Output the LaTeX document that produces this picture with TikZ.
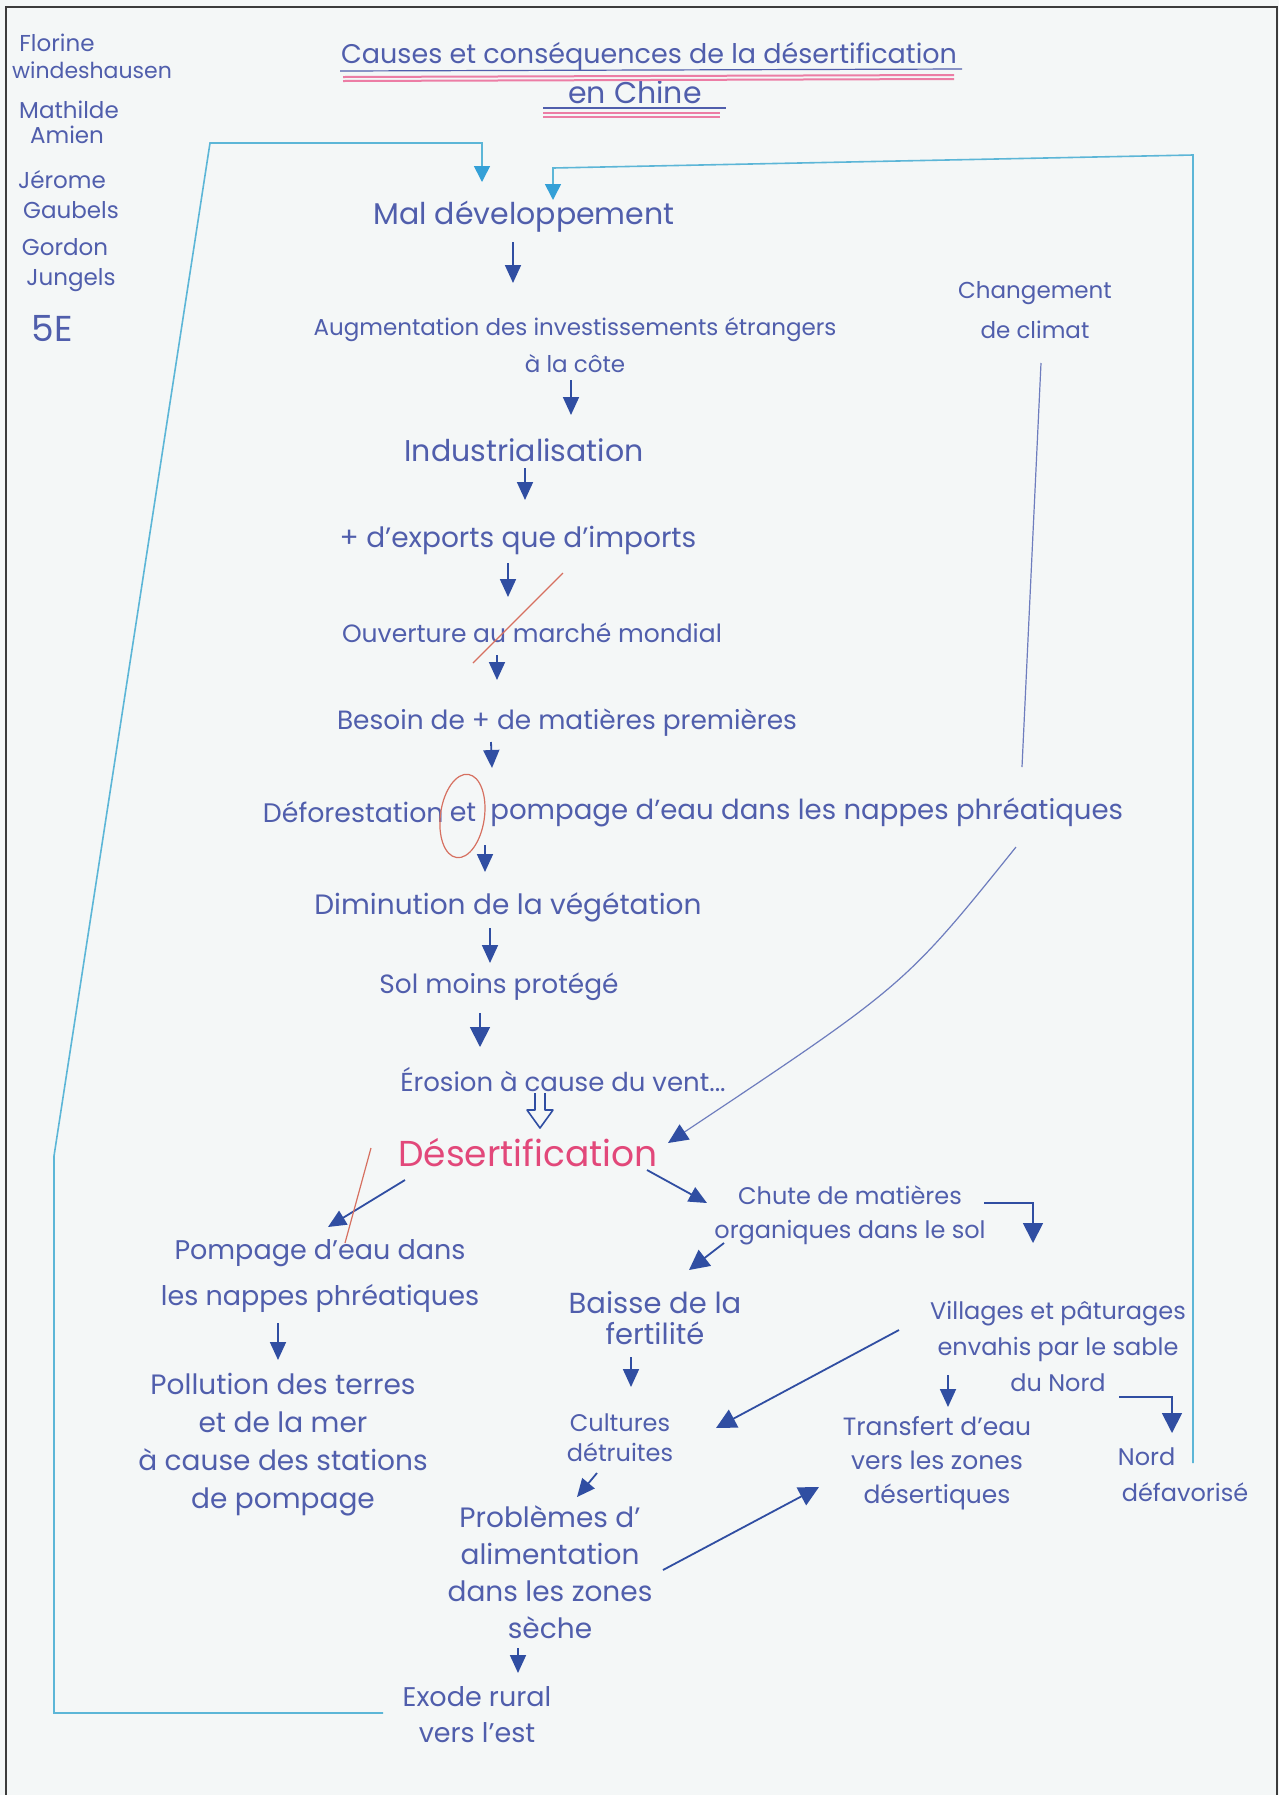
\documentclass[tikz,border=0pt]{standalone}
\usepackage{fontspec}
\setmainfont{Poppins}
\usetikzlibrary{arrows.meta}
\definecolor{handblue}{RGB}{80,94,172}
\definecolor{arrowblue}{RGB}{48,78,162}
\definecolor{despink}{RGB}{226,72,122}
\definecolor{ulpink}{RGB}{236,125,165}
\definecolor{loopcyan}{RGB}{92,182,215}
\definecolor{loophead}{RGB}{52,160,215}
\definecolor{redmark}{RGB}{214,112,96}
\definecolor{paper}{RGB}{244,247,247}
\definecolor{framegray}{RGB}{60,60,60}
\definecolor{thinblue}{RGB}{110,125,190}
\newcommand\hsz[2]{\fontsize{#1}{#2}\selectfont}
\begin{document}
\begin{tikzpicture}[x=0.5pt,y=-0.5pt,
  hand/.style={text=handblue, inner sep=0pt, align=center},
  arr/.style={draw=arrowblue, line width=0.9pt, -{Triangle[length=9pt,width=8pt]}},
  bigarr/.style={draw=arrowblue, line width=0.9pt, -{Triangle[length=10pt,width=10pt]}},
  loopline/.style={draw=loopcyan, line width=0.8pt},
  looparr/.style={loopline, -{Triangle[length=8pt,width=8pt,color=loophead]}},
  redstroke/.style={draw=redmark, line width=0.6pt},
  climline/.style={draw=thinblue, line width=0.6pt}
]
\useasboundingbox (0,0) rectangle (1279,1795);
\fill[paper] (0,0) rectangle (1279,1795);
\draw[framegray, line width=1pt] (6,1795) -- (6,7) -- (1277,7) -- (1277,1795);

% names
\node[hand, font=\hsz{11.5}{14}] (n1) at (57,43) {Florine};
\node[hand, font=\hsz{11}{14}] (n2) at (92,70) {windeshausen};
\node[hand, font=\hsz{11.5}{14}] (n3) at (69,110) {Mathilde};
\node[hand, font=\hsz{11.5}{14}] (n4) at (67,135) {Amien};
\node[hand, font=\hsz{11.5}{14}] (n5) at (62,180) {Jérome};
\node[hand, font=\hsz{11.5}{14}] (n6) at (71,210) {Gaubels};
\node[hand, font=\hsz{11.5}{14}] (n7) at (65,247) {Gordon};
\node[hand, font=\hsz{11.5}{14}] (n8) at (71,280) {Jungels};
\node[hand, font=\hsz{18}{20}] (n9) at (52,328) {5E};

% title
\node[hand, font=\hsz{13.5}{18}] (t1) at (649,56) {Causes et conséquences de la désertification};
\node[hand, font=\hsz{15}{18}] (t2) at (635,92) {en Chine};
\draw[handblue, line width=0.6pt] (340,71) -- (962,69);
\draw[ulpink, line width=1pt] (343,77) -- (954,75);
\draw[ulpink, line width=1pt] (343,81) -- (954,79);
\draw[handblue, line width=0.6pt] (543,108) -- (726,108);
\draw[ulpink, line width=1pt] (543,113) -- (720,113);
\draw[ulpink, line width=1pt] (543,117) -- (720,117);

% main column
\node[hand, font=\hsz{15}{18}] (mal) at (524,217) {Mal développement};
\node[hand, font=\hsz{11.5}{18.5}] (aug) at (575,345) {Augmentation des investissements étrangers\\à la côte};
\node[hand, font=\hsz{15}{18}] (ind) at (524,450) {Industrialisation};
\node[hand, font=\hsz{14}{18}] (exp) at (518,540) {+ d'exports que d'imports};
\node[hand, font=\hsz{12.5}{18}] (ouv) at (532,633) {Ouverture au marché mondial};
\node[hand, font=\hsz{13.2}{18}] (bes) at (567,723) {Besoin de + de matières premières};
\node[hand, font=\hsz{13.4}{18}, anchor=east] (defa) at (444,812) {Déforestation};
\node[hand, font=\hsz{13.4}{18}] (defet) at (463,812) {et};
\node[hand, font=\hsz{13.8}{18}, anchor=west] (defb) at (490,812) {pompage d'eau dans les nappes phréatiques};
\node[hand, font=\hsz{14}{18}] (dim) at (508,907) {Diminution de la végétation};
\node[hand, font=\hsz{13.2}{18}] (sol) at (499,987) {Sol moins protégé};
\node[hand, font=\hsz{13}{18}] (ero) at (563,1080) {Érosion à cause du vent...};
\node[hand, text=despink, font=\hsz{18}{20}] (des) at (528,1153) {Désertification};
\node[hand, font=\hsz{11.5}{20}] (chg) at (1035,310) {Changement\\de climat};

% lower nodes
\node[hand, font=\hsz{13.5}{23}] (pom) at (320,1276) {Pompage d'eau dans\\les nappes phréatiques};
\node[hand, font=\hsz{14}{19}] (pol) at (283,1445) {Pollution des terres\\et de la mer\\à cause des stations\\de pompage};
\node[hand, font=\hsz{12}{17}] (chu) at (850,1215) {Chute de matières\\organiques dans le sol};
\node[hand, font=\hsz{14.5}{15.5}] (bai) at (655,1318) {Baisse de la\\fertilité};
\node[hand, font=\hsz{12}{15}] (cul) at (620,1438) {Cultures\\détruites};
\node[hand, font=\hsz{14}{18.5}] (pro) at (550,1572) {Problèmes d'\\alimentation\\dans les zones\\sèche};
\node[hand, font=\hsz{13.5}{18}] (exo) at (477,1715) {Exode rural\\vers l'est};
\node[hand, font=\hsz{12}{18}] (vil) at (1058,1346) {Villages et pâturages\\envahis par le sable\\du Nord};
\node[hand, font=\hsz{12.5}{17}] (tra) at (937,1463) {Transfert d'eau\\vers les zones\\désertiques};
\node[hand, font=\hsz{12}{18}] (nor) at (1185,1475) {Nord\hspace*{3.2em}\\défavorisé};

% main column arrows
\draw[arr] ([shift={(-11,25)}]mal.center) -- ([shift={(-62,-62)}]aug.center);
\draw[arr] ([shift={(-4,35)}]aug.center) -- ([shift={(47,-35)}]ind.center);
\draw[arr] ([shift={(1,18)}]ind.center) -- ([shift={(7,-40)}]exp.center);
\draw[arr] ([shift={(-10,23)}]exp.center) -- ([shift={(-24,-36)}]ouv.center);
\draw[arr] ([shift={(-35,22)}]ouv.center) -- ([shift={(-70,-43)}]bes.center);
\draw[arr] ([shift={(-76,19)}]bes.center) -- ([shift={(29,-44)}]defet.center);
\draw[arr] ([shift={(22,33)}]defet.center) -- ([shift={(-23,-35)}]dim.center);
\draw[arr] ([shift={(-18,21)}]dim.center) -- ([shift={(-9,-24)}]sol.center);
\draw[bigarr] ([shift={(-19,26)}]sol.center) -- ([shift={(-83,-33)}]ero.center);
% hollow arrow erosion -> desertification
\draw[arrowblue, line width=0.8pt, line join=round]
  ([shift={(-28,13)}]ero.center) -- (535,1110) -- (527,1110) -- (540,1128) -- (553,1110) -- (545,1110) -- ([shift={(-18,13)}]ero.center);

% changement de climat
\coordinate (cv1) at (1022,767);
\coordinate (cv2) at (1016,847);
\draw[climline] ([shift={(6,53)}]chg.center) -- (cv1);
\draw[climline, -{Triangle[length=10pt,width=9pt,color=arrowblue]}] (cv2) .. controls (905,985) .. ([shift={(140,-10)}]des.center);

% lower arrows
\draw[arr] ([shift={(-123,27)}]des.center) -- ([shift={(8,-49)}]pom.center);
\draw[arr] ([shift={(119,17)}]des.center) -- ([shift={(-143,-12)}]chu.center);
\draw[arr] ([shift={(-42,47)}]pom.center) -- ([shift={(-5,-85)}]pol.center);
\draw[bigarr] ([shift={(-126,28)}]chu.center) -- ([shift={(34,-48)}]bai.center);
\draw[bigarr] ([shift={(134,-12)}]chu.center) -| ([shift={(-25,-103)}]vil.center);
\draw[arr] ([shift={(-24,39)}]bai.center) -- ([shift={(11,-51)}]cul.center);
\draw[bigarr] ([shift={(-159,-16)}]vil.center) -- ([shift={(96,-10)}]cul.center);
\draw[arr] ([shift={(-110,29)}]vil.center) -- ([shift={(11,-56)}]tra.center);
\draw[bigarr] ([shift={(61,51)}]vil.center) -| ([shift={(-13,-42)}]nor.center);
\draw[arr] ([shift={(-23,35)}]cul.center) -- ([shift={(27,-75)}]pro.center);
\draw[bigarr] ([shift={(113,-2)}]pro.center) -- ([shift={(-118,24)}]tra.center);
\draw[arr] ([shift={(-32,76)}]pro.center) -- ([shift={(41,-42)}]exo.center);

% feedback loops
\draw[looparr] ([shift={(-94,-2)}]exo.center) -- (54,1713) -- (54,1156) -- (210,143) -- (482,143) -- ([shift={(-42,-35)}]mal.center);
\draw[looparr] ([shift={(8,-12)}]nor.center) -- (1193,155) -- (553,168) -- ([shift={(29,-17)}]mal.center);

% red corrections
\draw[redstroke] (563,573) -- (473,663);
\draw[redstroke, rotate around={-8:(defet.center)}] ([yshift=-2pt]defet.center) ellipse [x radius=11pt, y radius=21pt];
\draw[redstroke] (371,1148) -- (345,1243);
\end{tikzpicture}
\end{document}
